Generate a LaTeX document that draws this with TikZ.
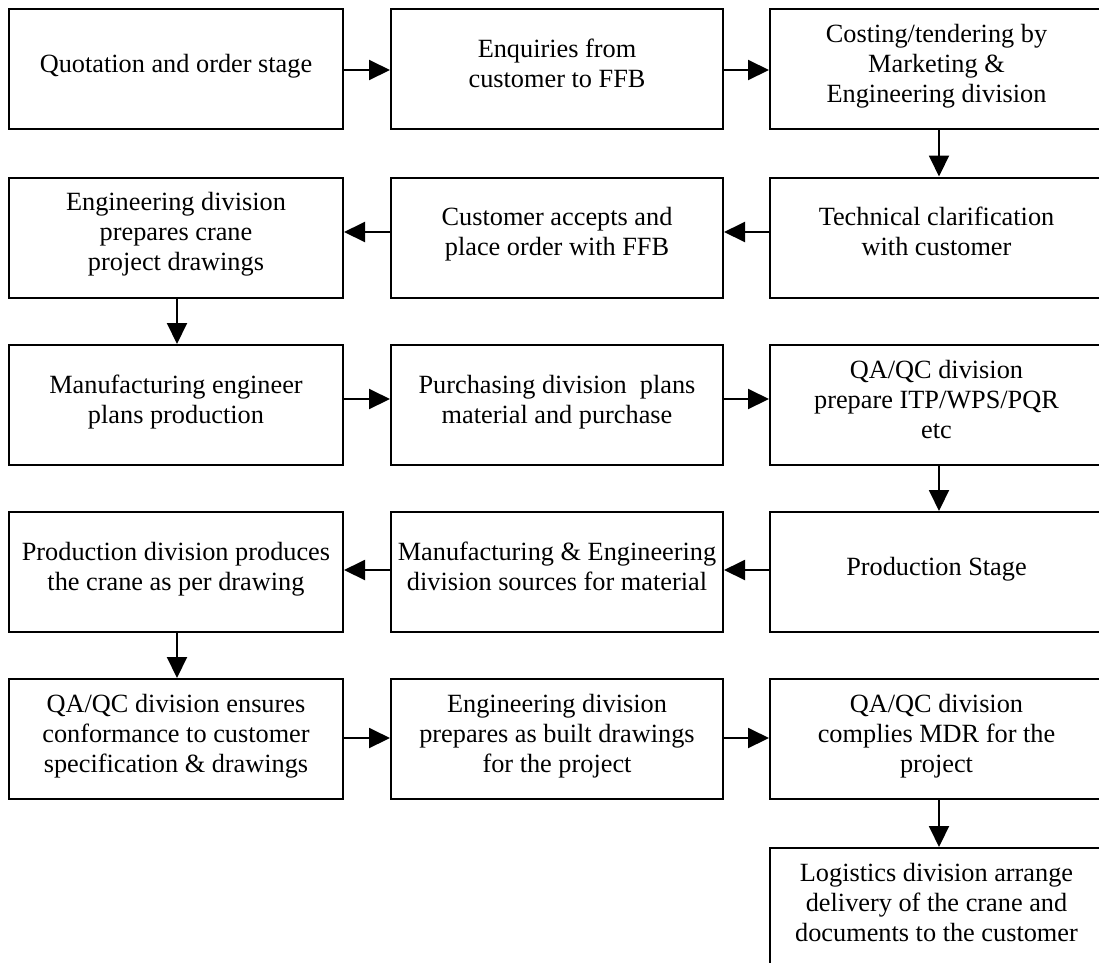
\documentclass[tikz,border=0pt]{standalone}
\usepackage{fontspec}
\setmainfont{Liberation Serif}
\usetikzlibrary{arrows.meta}
\begin{document}
\begin{tikzpicture}[x=1pt,y=-1pt,
  box/.style={draw, line width=2pt, align=center, inner sep=2pt,
    font=\fontsize{26.3}{30}\selectfont, text depth=12pt, minimum height=120pt},
  cA/.style={box, minimum width=334pt},
  cB/.style={box, minimum width=332pt},
  cC/.style={box, minimum width=333pt},
  arr/.style={line width=2pt, -{Triangle[length=21pt,width=20pt]}}]
\useasboundingbox (0,0) rectangle (1099,962);
\clip (0,0) rectangle (1099,962);
% row 1
\node[cA] (quot) at (176,69) {Quotation and order stage};
\node[cB] (enq) at (557,69) {Enquiries from\\customer to FFB};
\node[cC] (cost) at (936.5,69) {Costing/tendering by\\Marketing \&\\Engineering division};
% row 2
\node[cA] (engd) at (176,237.5) {Engineering division\\prepares crane\\project drawings};
\node[cB] (cust) at (557,237.5) {Customer accepts and\\place order with FFB};
\node[cC] (tech) at (936.5,237.5) {Technical clarification\\with customer};
% row 3
\node[cA] (mfg) at (176,405) {Manufacturing engineer\\plans production};
\node[cB] (pur) at (557,405) {Purchasing division\ \ plans\\material and purchase};
\node[cC] (qaa) at (936.5,405) {QA/QC division\\prepare ITP/WPS/PQR\\etc};
% row 4
\node[cA] (prd) at (176,572) {Production division produces\\the crane as per drawing};
\node[cB] (mes) at (557,572) {Manufacturing \& Engineering\\division sources for material};
\node[cC] (pst) at (936.5,572) {Production Stage};
% row 5
\node[cA] (qab) at (176,739) {QA/QC division ensures\\conformance to customer\\specification \& drawings};
\node[cB] (asb) at (557,739) {Engineering division\\prepares as built drawings\\for the project};
\node[cC] (qac) at (936.5,739) {QA/QC division\\complies MDR for the\\project};
% row 6
\node[cC] (log) at (936.5,908) {Logistics division arrange\\delivery of the crane and\\documents to the customer};
% connectors
\draw[arr] ([yshift=-1pt]quot.east) -- ([yshift=-1pt]enq.west);
\draw[arr] ([yshift=-1pt]enq.east) -- ([yshift=-1pt]cost.west);
\draw[arr] ([xshift=2.5pt]cost.south) -- ([xshift=2.5pt]tech.north);
\draw[arr] ([yshift=5.5pt]tech.west) -- ([yshift=5.5pt]cust.east);
\draw[arr] ([yshift=5.5pt]cust.west) -- ([yshift=5.5pt]engd.east);
\draw[arr] ([xshift=1pt]engd.south) -- ([xshift=1pt]mfg.north);
\draw[arr] ([yshift=6pt]mfg.east) -- ([yshift=6pt]pur.west);
\draw[arr] ([yshift=6pt]pur.east) -- ([yshift=6pt]qaa.west);
\draw[arr] ([xshift=2.5pt]qaa.south) -- ([xshift=2.5pt]pst.north);
\draw[arr] ([yshift=2pt]pst.west) -- ([yshift=2pt]mes.east);
\draw[arr] ([yshift=2pt]mes.west) -- ([yshift=2pt]prd.east);
\draw[arr] ([xshift=1pt]prd.south) -- ([xshift=1pt]qab.north);
\draw[arr] ([yshift=1pt]qab.east) -- ([yshift=1pt]asb.west);
\draw[arr] ([yshift=1pt]asb.east) -- ([yshift=1pt]qac.west);
\draw[arr] ([xshift=2.5pt]qac.south) -- ([xshift=2.5pt]log.north);
\end{tikzpicture}
\end{document}
